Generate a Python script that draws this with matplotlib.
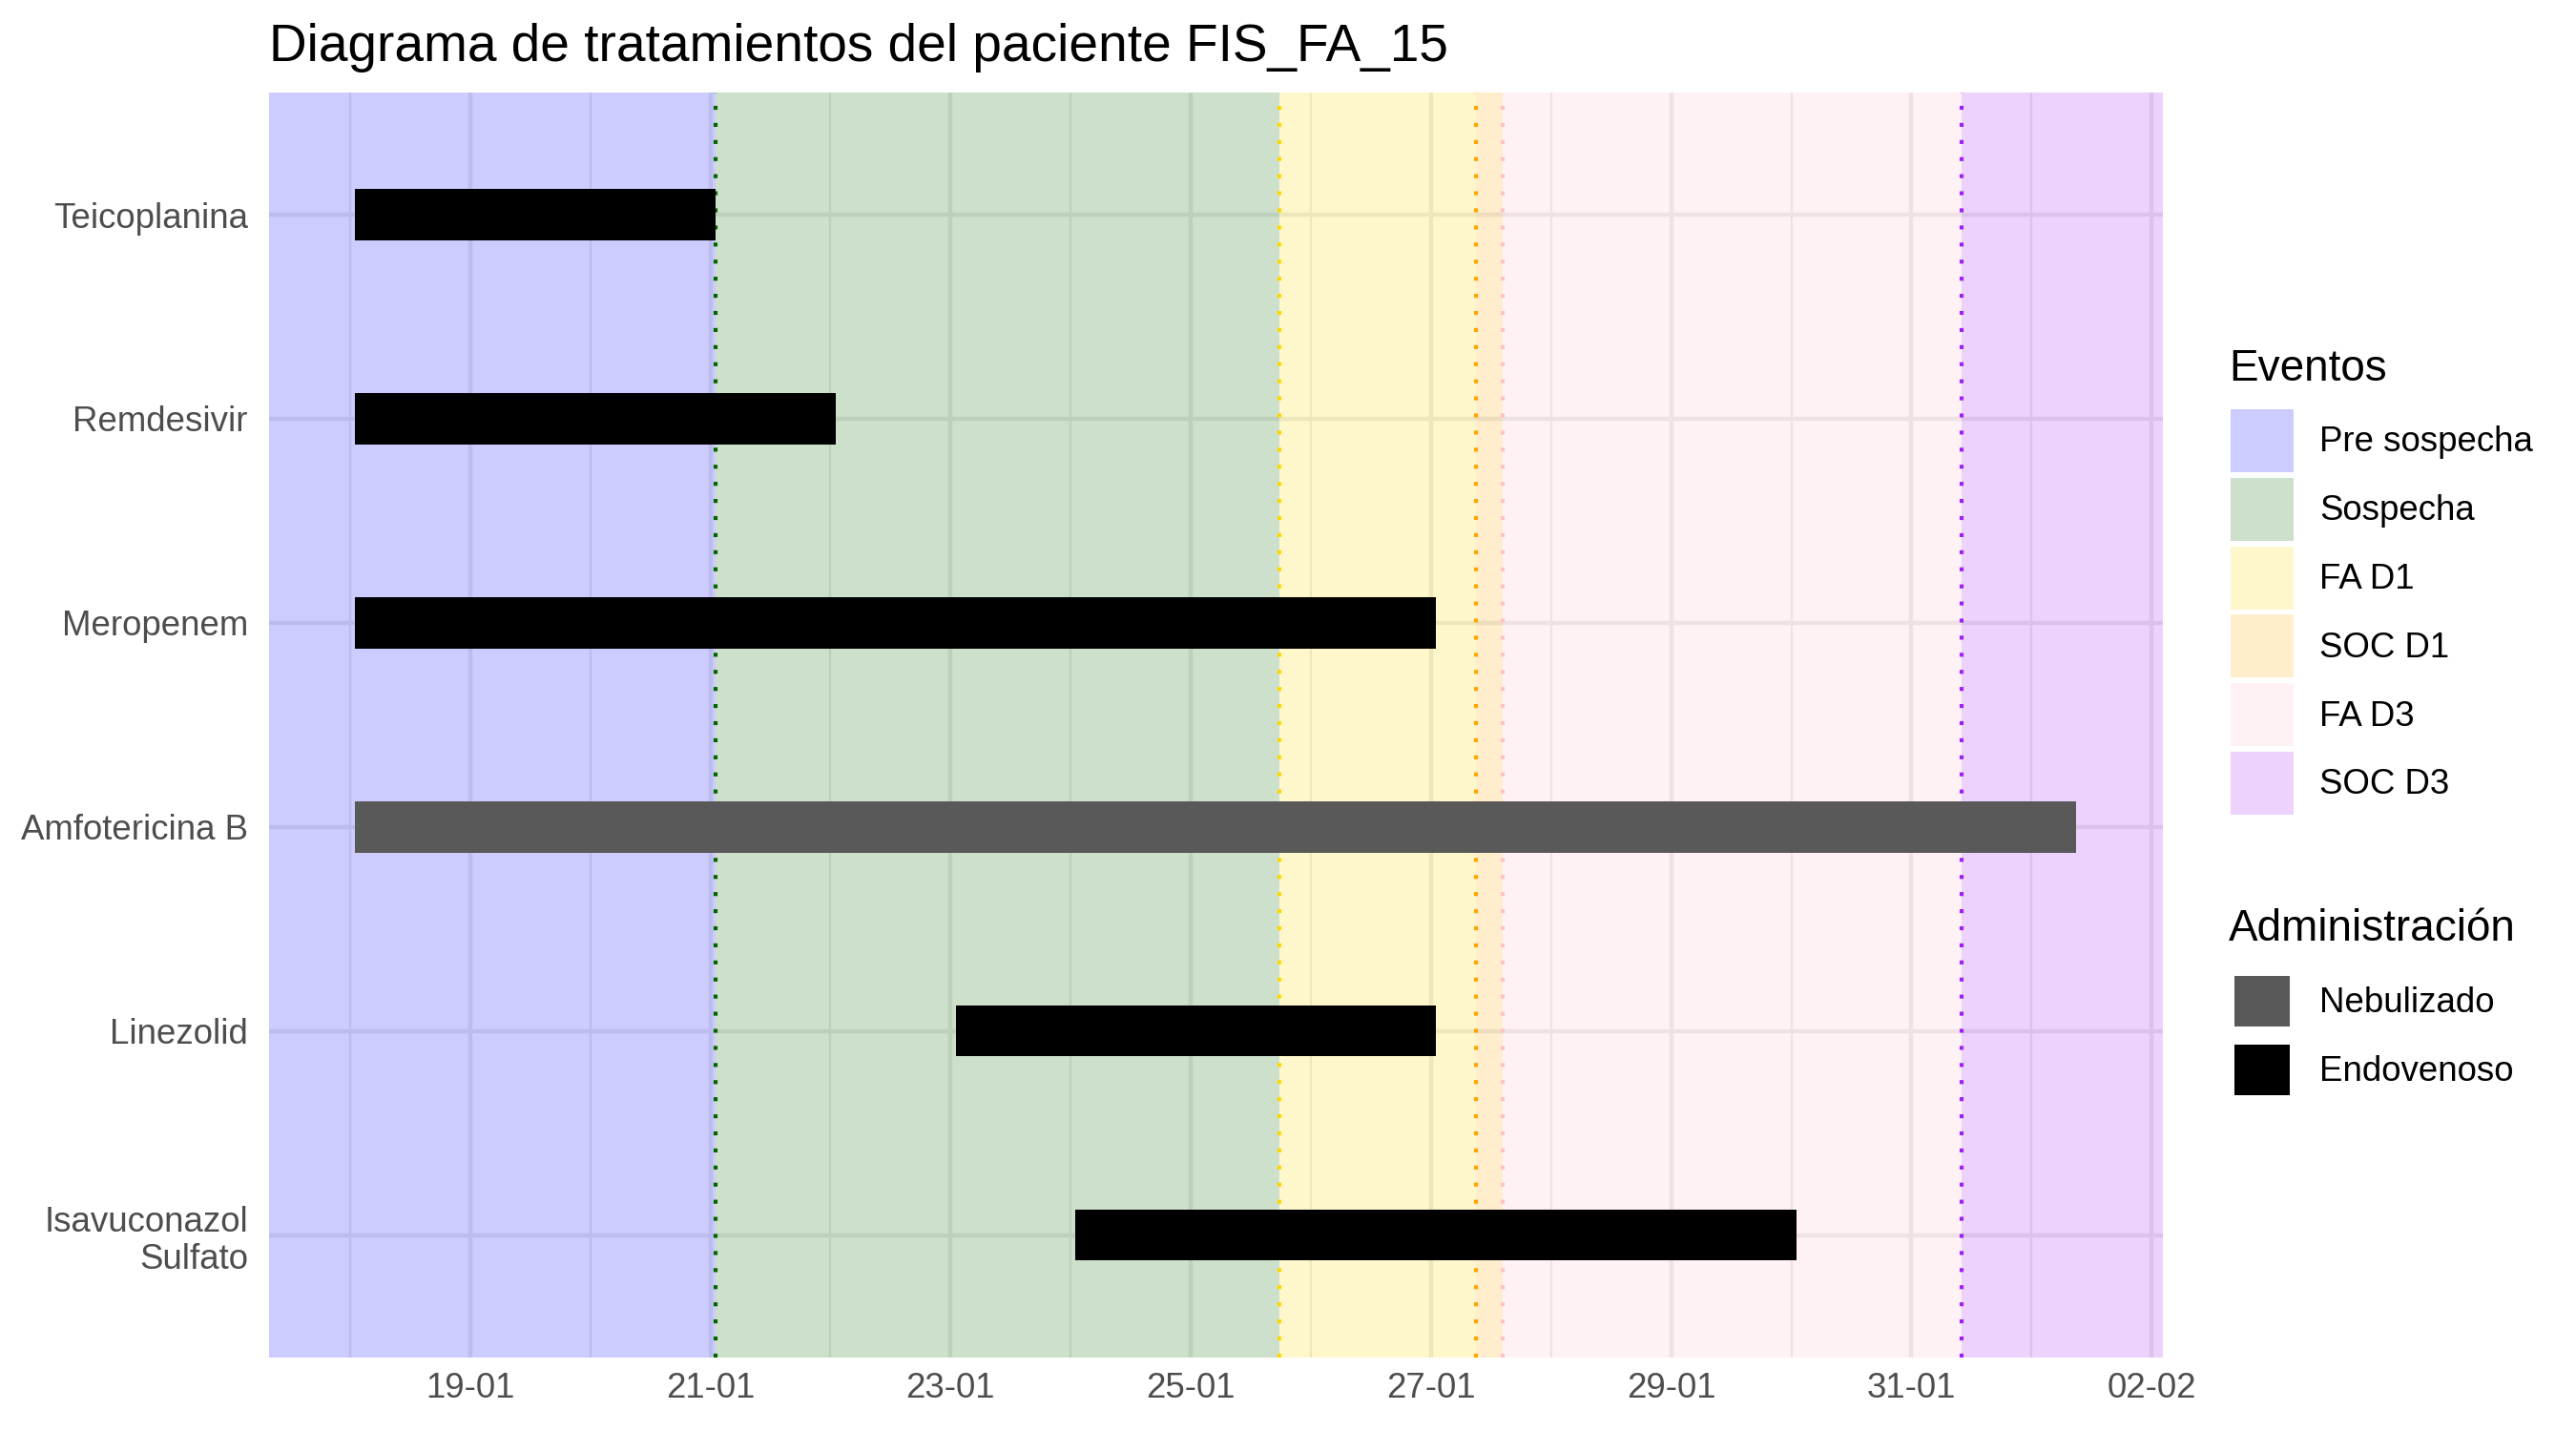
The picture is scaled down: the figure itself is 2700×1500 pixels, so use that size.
import matplotlib
matplotlib.use("Agg")
import matplotlib.pyplot as plt
import matplotlib.dates as mdates
from matplotlib.patches import Patch
import pandas as pd

plt.rcParams["font.family"] = ["Liberation Sans", "DejaVu Sans"]

# Tratamientos
drugs = ["Teicoplanina", "Remdesivir", "Meropenem", "Amfotericina B", "Linezolid", "Isavuconazol\nSulfato"]
drug_start = ["2022-01-18 01:00", "2022-01-18 01:00", "2022-01-18 01:00",
              "2022-01-18 01:00", "2022-01-23 01:00", "2022-01-24 01:00"]
drug_end = ["2022-01-21 01:00", "2022-01-22 01:00", "2022-01-27 01:00",
            "2022-02-01 09:00", "2022-01-27 01:00", "2022-01-30 01:00"]
route = ["Endovenoso", "Endovenoso", "Endovenoso", "Nebulizado", "Endovenoso", "Endovenoso"]
route_names = ["Nebulizado", "Endovenoso"]
route_colors = {"Nebulizado": "#595959", "Endovenoso": "#000000"}

# Eventos (None = borde del panel)
event_names = ["Pre sospecha", "Sospecha", "FA D1", "SOC D1", "FA D3", "SOC D3"]
event_start = [None, "2022-01-21 01:00", "2022-01-25 17:40", "2022-01-27 09:00",
               "2022-01-27 14:15", "2022-01-31 10:00"]
event_end = ["2022-01-21 01:00", "2022-01-25 17:40", "2022-01-27 09:00",
             "2022-01-27 14:15", "2022-01-31 10:00", None]
event_colors = ["blue", "darkgreen", "gold", "orange", "pink", "#A020F0"]

major_ticks = pd.date_range("2022-01-19", "2022-02-02", freq="2D")
minor_ticks = pd.date_range("2022-01-18", "2022-02-01", freq="2D")

fig = plt.figure(figsize=(9, 5), dpi=300)
ax = fig.add_axes([282 / 2700, 1 - 1423 / 1500, (2266.7 - 282) / 2700, (1423 - 96.7) / 1500])

s = mdates.date2num(pd.to_datetime(drug_start))
e = mdates.date2num(pd.to_datetime(drug_end))
lo, hi = s.min(), e.max()
pad = 0.05 * (hi - lo)
xmin, xmax = lo - pad, hi + pad

# fondos por evento
for name, st, en, col in zip(event_names, event_start, event_end, event_colors):
    a = xmin if st is None else mdates.date2num(pd.Timestamp(st))
    b = xmax if en is None else mdates.date2num(pd.Timestamp(en))
    ax.axvspan(a, b, color=col, alpha=0.2, lw=0, zorder=1)
    if st is not None:
        ax.axvline(a, color=col, lw=1.0, linestyle=(0, (1, 3.3)), zorder=1.5)

# barras
y = list(range(len(drugs)))
for i in y:
    ax.barh(i, e[i] - s[i], left=s[i], height=0.25,
            color=route_colors[route[i]], lw=0, zorder=2)

ax.set_xlim(xmin, xmax)
ax.set_ylim(len(drugs) - 1 + 0.6, -0.6)
ax.set_yticks(y)
ax.set_yticklabels(drugs, linespacing=1.15)
ax.set_xticks(mdates.date2num(major_ticks))
ax.set_xticks(mdates.date2num(minor_ticks), minor=True)
ax.xaxis.set_major_formatter(mdates.DateFormatter("%d-%m"))

ax.set_axisbelow(True)
ax.grid(which="major", color="#EBEBEB", lw=1.07)
ax.grid(which="minor", axis="x", color="#EBEBEB", lw=0.53)
for sp in ax.spines.values():
    sp.set_visible(False)
ax.tick_params(axis="both", which="both", length=0, labelsize=8.8, labelcolor="#4D4D4D")
ax.tick_params(axis="x", pad=3.6)
ax.tick_params(axis="y", pad=5.3)

fig.text(282 / 2700, 1 - 63.7 / 1500, "Diagrama de tratamientos del paciente FIS_FA_15",
         fontsize=13.2, color="black", ha="left", va="baseline")

# leyendas
fig.text(2336 / 2700, 1 - 398.8 / 1500, "Eventos", fontsize=11, ha="left", va="baseline")
h1 = [Patch(facecolor=c, alpha=0.2, lw=0) for c in event_colors]
fig.legend(h1, event_names, loc="upper left", bbox_to_anchor=(2337.7 / 2700, 1 - 429 / 1500),
           frameon=False, borderpad=0, borderaxespad=0, fontsize=8.8, handlelength=1.8,
           handleheight=2.39, labelspacing=0.16, handletextpad=0.75)

fig.text(2336 / 2700, 1 - 985.8 / 1500, "Administración", fontsize=11, ha="left", va="baseline")
h2 = [Patch(facecolor=route_colors[r], lw=0) for r in route_names]
fig.legend(h2, route_names, loc="upper left", bbox_to_anchor=(2342 / 2700, 1 - 1022.7 / 1500),
           frameon=False, borderpad=0, borderaxespad=0, fontsize=8.8, handlelength=1.58,
           handleheight=1.845, labelspacing=0.52, handletextpad=0.86)

fig.savefig("out.png", dpi=300, facecolor="white")
